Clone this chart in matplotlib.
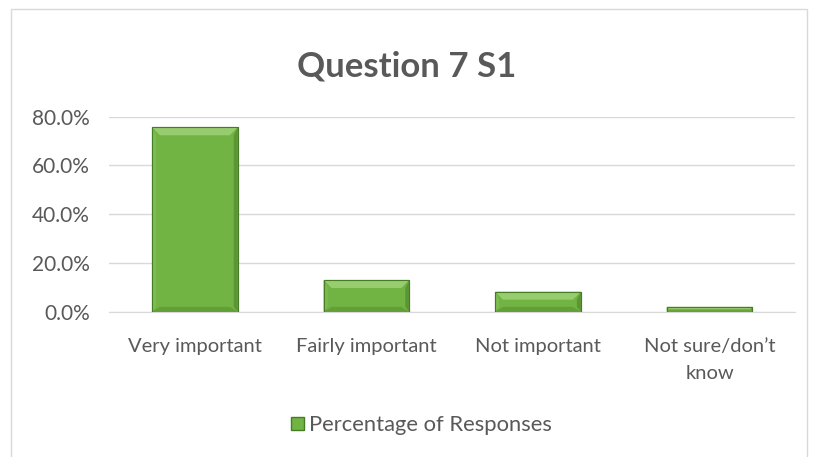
import matplotlib.pyplot as plt
from matplotlib.patches import Rectangle, Polygon

# data
categories = ['Very important', 'Fairly important', 'Not important', 'Not sure/don\u2019t\nknow']
percentages = [75.6, 13.0, 8.2, 2.0]
yticks = [0, 20, 40, 60, 80]
series_name = 'Percentage of Responses'

plt.rcParams['font.family'] = ['Lato', 'DejaVu Sans']
text_grey = '#595959'
bar_face = '#72B443'
bar_edge = '#477C27'

fig = plt.figure(figsize=(8.14, 4.57), dpi=100)
# outer chart frame
fig.patches.append(Rectangle((0.013, -0.01), 0.978, 0.99, transform=fig.transFigure,
                             fill=False, edgecolor='#D9D9D9', linewidth=1))

ax = fig.add_axes([0.134, 0.318, 0.843, 0.427])
ax.set_xlim(-0.5, len(categories) - 0.5)
ax.set_ylim(0, 80)
x = range(len(categories))
bars = ax.bar(x, percentages, width=0.5, color=bar_face, edgecolor=bar_edge,
              linewidth=0.8, zorder=3)

# bevel: size in pixels, converted to data units
bevel_px = 8
px_x = (ax.get_xlim()[1] - ax.get_xlim()[0]) / (0.843 * 814)
px_y = (ax.get_ylim()[1] - ax.get_ylim()[0]) / (0.427 * 457)
for b in bars:
    x0, w, h = b.get_x(), b.get_width(), b.get_height()
    dy = min(bevel_px * px_y, h * 0.45)
    dx = bevel_px * px_x * (dy / (bevel_px * px_y))
    x1 = x0 + w
    ax.add_patch(Polygon([(x0, h), (x1, h), (x1 - dx, h - dy), (x0 + dx, h - dy)],
                         facecolor='#97CD6E', edgecolor='none', zorder=4))
    ax.add_patch(Polygon([(x0, 0), (x1, 0), (x1 - dx, dy * 0.6), (x0 + dx, dy * 0.6)],
                         facecolor='#62A036', edgecolor='none', zorder=4))
    ax.add_patch(Polygon([(x0, 0), (x0, h), (x0 + dx * 0.5, h - dy), (x0 + dx * 0.5, dy * 0.6)],
                         facecolor='#7DBC51', edgecolor='none', zorder=4))
    ax.add_patch(Polygon([(x1, 0), (x1, h), (x1 - dx * 0.5, h - dy), (x1 - dx * 0.5, dy * 0.6)],
                         facecolor='#5C9634', edgecolor='none', zorder=4))
    ax.add_patch(Rectangle((x0, 0), w, h, fill=False, edgecolor=bar_edge,
                           linewidth=0.8, zorder=5))

ax.set_yticks(yticks)
ax.set_yticklabels([f'{v:.1f}%' for v in yticks], color=text_grey, fontsize=15)
ax.set_xticks(list(x))
ax.set_xticklabels(categories, color=text_grey, fontsize=14.5, linespacing=1.7)
ax.tick_params(axis='x', length=0, pad=19)
ax.tick_params(axis='y', length=0, pad=14)
ax.grid(axis='y', color='#D9D9D9', linewidth=1, zorder=0)
for s in ['top', 'right', 'left']:
    ax.spines[s].set_visible(False)
ax.spines['bottom'].set_color('#D9D9D9')

fig.text(0.5, 0.855, 'Question 7 S1', ha='center', va='center', fontsize=25,
         fontweight='bold', color=text_grey)

ax.legend([Rectangle((0, 0), 1, 1, facecolor=bar_face, edgecolor=bar_edge)], [series_name],
          loc='center', bbox_to_anchor=(0.518, 0.07), bbox_transform=fig.transFigure,
          frameon=False, fontsize=15.8, labelcolor=text_grey, handlelength=0.55,
          handleheight=0.55, handletextpad=0.25)

fig.savefig('out.png', dpi=100)
